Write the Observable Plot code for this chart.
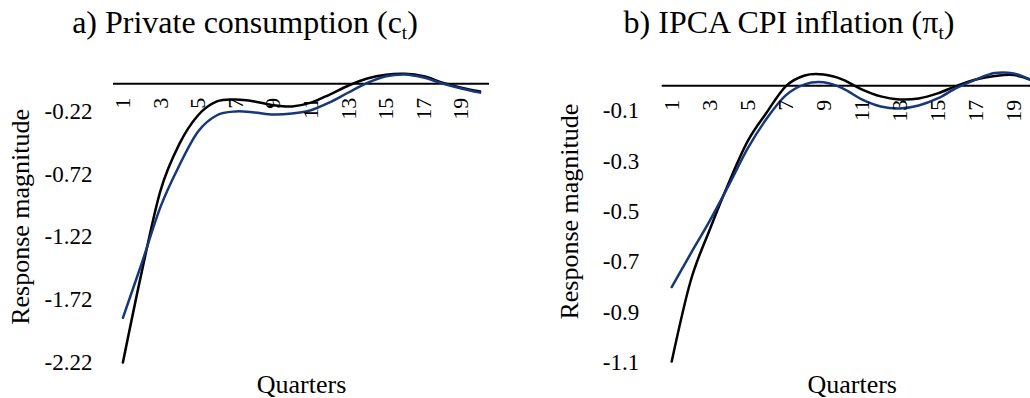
<!DOCTYPE html>
<html><head><meta charset="utf-8">
<script src="https://cdn.jsdelivr.net/npm/d3@7"></script>
<script src="https://cdn.jsdelivr.net/npm/@observablehq/plot@0.6"></script>
<style>
html,body{margin:0;padding:0;background:#fff;}
#wrap{position:relative;width:1030px;height:398px;overflow:hidden;font-family:"Liberation Serif","Times New Roman",serif;color:#000;}
.title{position:absolute;top:6px;font-size:32px;line-height:32px;text-align:center;white-space:nowrap;}
.title sub{font-size:0.6em;vertical-align:-0.32em;line-height:0;}
.panel{position:absolute;top:45px;}
</style></head><body>
<div id="wrap">
  <div class="title" style="left:45px;width:400px">a) Private consumption (c<sub>t</sub>)</div>
  <div class="title" style="left:589px;width:400px">b) IPCA CPI inflation (π<sub>t</sub>)</div>
  <div class="panel" id="pa" style="left:0;width:520px"></div>
  <div class="panel" id="pb" style="left:520px;width:530px"></div>
</div>
<script>
// ---- data ----
const quarters = [1,2,3,4,5,6,7,8,9,10,11,12,13,14,15,16,17,18,19,20];
const xTickLabels = [1,3,5,7,9,11,13,15,17,19];

const yTicksA = [-0.22,-0.72,-1.22,-1.72,-2.22];
const yTicksB = [-0.1,-0.3,-0.5,-0.7,-0.9,-1.1];

// a) Private consumption
const consBlack = [-2.22,-1.50,-0.85,-0.48,-0.25,-0.14,-0.125,-0.14,-0.17,-0.18,-0.15,-0.085,-0.013,0.043,0.073,0.08,0.06,0.01,-0.03,-0.06];
const consBlue  = [-1.864,-1.43,-0.98,-0.65,-0.38,-0.25,-0.22,-0.228,-0.244,-0.236,-0.21,-0.148,-0.069,0.007,0.06,0.075,0.05,0.003,-0.037,-0.07];

// b) IPCA CPI inflation
const inflBlack = [-1.096,-0.775,-0.572,-0.386,-0.22,-0.106,-0.002,0.041,0.045,0.025,-0.014,-0.042,-0.054,-0.05,-0.03,0,0.025,0.039,0.043,0.021];
const inflBlue  = [-0.80,-0.667,-0.537,-0.396,-0.249,-0.13,-0.038,0.006,0.014,-0.01,-0.054,-0.082,-0.09,-0.078,-0.05,-0.008,0.025,0.051,0.049,0.021];

const yTitle = "Response magnitude";
const xTitle = "Quarters";
const colBlack = "#000000";
const colBlue = "#16387a";
const FONT = '"Liberation Serif","Times New Roman",serif';

function rows(vals){ return quarters.map((q,i)=>({q, v: vals[i]})); }

function panel({width, marginLeft, marginRight, marginTop, yDomain, yTicks, yFmt, tickPad, black, blue}){
  return Plot.plot({
    width, height: 353, marginLeft, marginRight, marginTop, marginBottom: 36,
    style: {fontFamily: FONT, background: "transparent", maxWidth: "none", overflow: "visible", color: "#000"},
    x: {domain: [0.5, 20.5], axis: null},
    y: {domain: yDomain, axis: null},
    marks: [
      Plot.axisY({ticks: yTicks, tickSize: 0, tickPadding: tickPad, tickFormat: yFmt, fontSize: 23, label: null}),
      Plot.ruleY([0], {stroke: "#000", strokeWidth: 2}),
      Plot.line(rows(black), {x: "q", y: "v", stroke: colBlack, strokeWidth: 2.5, curve: "cardinal", tension: 0}),
      Plot.line(rows(blue), {x: "q", y: "v", stroke: colBlue, strokeWidth: 2.5, curve: "cardinal", tension: 0}),
      Plot.text(xTickLabels, {x: d => d, y: () => 0, text: d => String(d), rotate: -90, textAnchor: "end", lineAnchor: "middle", dy: 14, fontSize: 22}),
      Plot.text([yTitle], {frameAnchor: "left", text: d => d, rotate: -90, textAnchor: "middle", lineAnchor: "middle", dx: -93, fontSize: 26}),
      Plot.text([xTitle], {frameAnchor: "bottom", text: d => d, textAnchor: "middle", lineAnchor: "bottom", dy: 30, fontSize: 26})
    ]
  });
}

document.getElementById("pa").append(panel({
  width: 520, marginLeft: 113, marginRight: 31, marginTop: 25.8,
  yDomain: [-2.22, 0.1], yTicks: yTicksA, yFmt: d => d.toFixed(2), tickPad: 21,
  black: consBlack, blue: consBlue
}));
document.getElementById("pb").append(panel({
  width: 530, marginLeft: 141.7, marginRight: 8.3, marginTop: 15.2,
  yDomain: [-1.1, 0.1], yTicks: yTicksB, yFmt: d => d.toFixed(1), tickPad: 23,
  black: inflBlack, blue: inflBlue
}));
</script>
</body></html>
